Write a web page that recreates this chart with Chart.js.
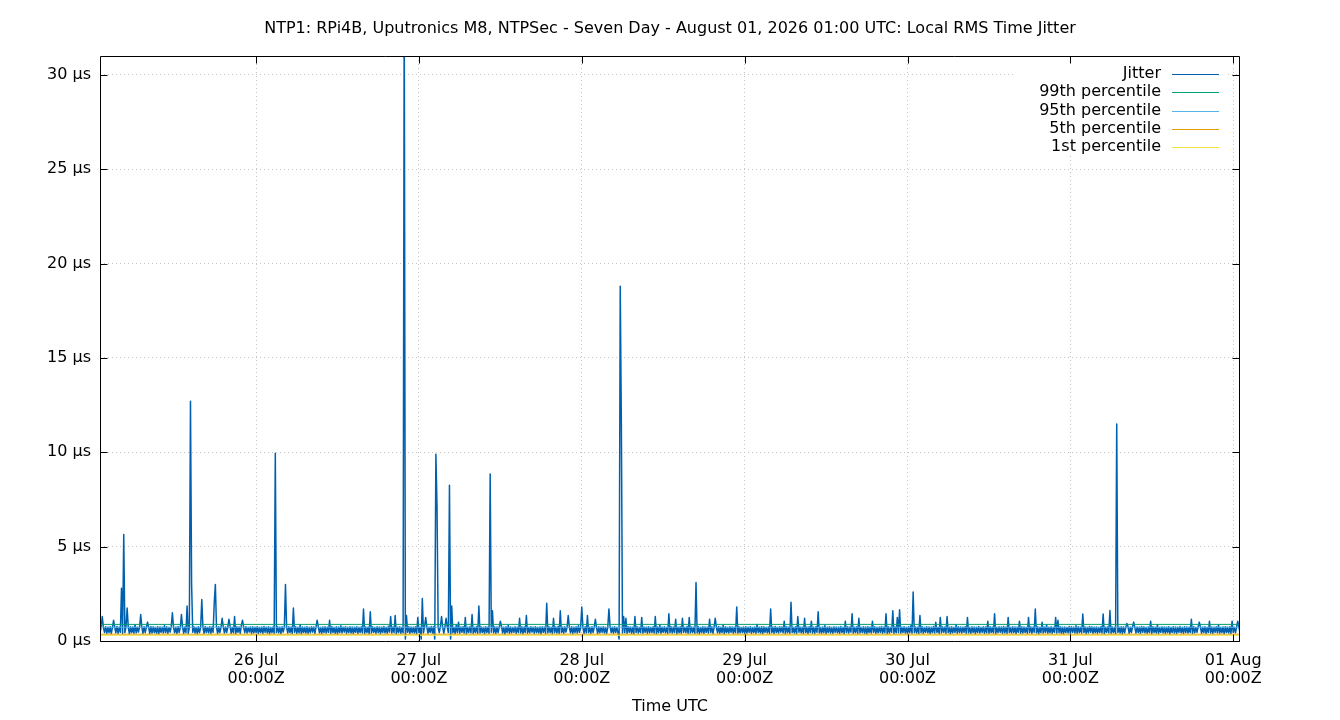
<!DOCTYPE html>
<html>
<head>
<meta charset="utf-8">
<title>Local RMS Time Jitter</title>
<script src="https://cdn.jsdelivr.net/npm/chart.js@4.4.1/dist/chart.umd.min.js"></script>
<style>
  html, body { margin: 0; padding: 0; background: #fff; }
  #wrap { width: 1340px; height: 720px; }
</style>
</head>
<body>
<div id="wrap"><canvas id="jitter" width="1340" height="720"></canvas></div>
<script>
// hours are counted from 26 Jul 00:00Z; samples every 10 minutes from 25 Jul 01:00Z
const startHour = -23;
const endHour = 145;
const stepMinutes = 10;

// Local RMS time jitter, microseconds (two lines = 8 hours)
const jitter = [
  0.42, 0.74, 1.3, 0.72, 0.45, 0.76, 0.40, 0.73, 0.44, 0.75, 0.39, 0.72, 1.1, 0.74, 0.43, 0.77, 0.41, 0.73, 0.46, 2.8, 0.40, 5.65, 0.44, 0.75,
  1.75, 0.72, 0.38, 0.76, 0.45, 0.74, 0.41, 0.86, 0.43, 0.73, 0.47, 0.75, 1.4, 0.72, 0.40, 0.76, 0.44, 0.74, 1.0, 0.73, 0.39, 0.77, 0.42, 0.75,
  0.45, 0.72, 0.41, 0.76, 0.38, 0.74, 0.46, 0.73, 0.42, 0.82, 0.44, 0.75, 0.40, 0.72, 0.47, 0.76, 1.5, 0.74, 0.43, 0.73, 0.39, 0.77, 0.45, 0.72,
  1.4, 0.75, 0.41, 0.74, 0.44, 1.85, 0.40, 0.73, 12.7, 3.0, 0.46, 0.76, 0.42, 0.72, 0.38, 0.75, 0.44, 0.74, 2.2, 0.73, 0.41, 0.77, 0.45, 0.72,
  0.43, 0.76, 0.40, 0.74, 0.46, 2.0, 3.0, 0.73, 0.39, 0.75, 0.44, 0.72, 1.2, 0.76, 0.42, 0.74, 0.45, 0.73, 1.15, 0.77, 0.41, 0.72, 0.43, 1.3,
  0.38, 0.75, 0.46, 0.74, 0.40, 0.83, 1.1, 0.73, 0.44, 0.76, 0.42, 0.72, 0.47, 0.74, 0.39, 0.75, 0.43, 0.73, 0.45, 0.76, 0.41, 0.72, 0.44, 0.74,
  0.40, 0.77, 0.46, 0.73, 0.42, 0.75, 0.38, 0.72, 0.44, 0.74, 0.41, 9.95, 0.45, 0.76, 0.43, 0.73, 0.39, 0.75, 0.47, 0.72, 3.0, 0.74, 0.42, 0.76,
  0.44, 0.73, 0.40, 1.75, 0.46, 0.75, 0.41, 0.72, 0.43, 0.86, 0.38, 0.74, 0.45, 0.73, 0.42, 0.76, 0.40, 0.72, 0.44, 0.75, 0.47, 0.74, 0.41, 0.73,
  1.1, 0.76, 0.43, 0.72, 0.39, 0.74, 0.45, 0.75, 0.42, 0.73, 0.46, 1.1, 0.40, 0.77, 0.44, 0.72, 0.41, 0.75, 0.38, 0.74, 0.45, 0.81, 0.43, 0.73,
  0.47, 0.76, 0.40, 0.72, 0.44, 0.75, 0.42, 0.74, 0.39, 0.73, 0.46, 0.76, 0.41, 0.72, 0.45, 0.75, 0.43, 1.7, 0.40, 0.74, 0.44, 0.73, 0.38, 1.55,
  0.42, 0.75, 0.46, 0.72, 0.41, 0.76, 0.44, 0.74, 0.39, 0.73, 0.45, 0.77, 0.43, 0.72, 0.40, 0.78, 0.47, 1.3, 0.42, 0.74, 0.44, 1.35, 0.38, 0.73,
  0.45, 0.75, 0.41, 0.72, 0.43, 34.0, 0.1, 1.35, 0.46, 0.76, 0.40, 0.74, 0.44, 0.73, 0.42, 0.75, 0.39, 1.25, 0.45, 0.72, 0.1, 2.25, 0.43, 0.76,
  1.25, 0.74, 0.41, 0.73, 0.46, 0.77, 0.42, 0.75, 0.1, 9.9, 7.1, 0.72, 0.44, 0.76, 1.3, 0.74, 0.40, 0.73, 1.2, 0.75, 0.45, 8.25, 0.1, 1.85,
  0.43, 0.72, 0.39, 0.84, 0.44, 1.0, 0.41, 0.74, 0.46, 0.76, 0.42, 1.25, 0.38, 0.73, 0.45, 0.75, 0.43, 1.4, 0.40, 0.72, 0.44, 0.77, 0.41, 1.85,
  0.42, 0.74, 0.45, 0.72, 0.39, 0.76, 0.44, 0.73, 0.41, 8.85, 0.46, 1.6, 0.43, 0.75, 0.40, 0.74, 0.44, 0.72, 1.05, 0.77, 0.42, 0.73, 0.37, 0.75,
  0.45, 0.83, 0.41, 0.74, 0.43, 0.72, 0.46, 0.76, 0.40, 0.73, 0.44, 1.2, 0.42, 0.75, 0.39, 0.74, 0.45, 1.35, 0.41, 0.72, 0.43, 0.76, 0.47, 0.73,
  0.40, 0.75, 0.44, 0.72, 0.42, 0.74, 0.38, 0.76, 0.46, 0.73, 0.41, 2.0, 0.43, 0.75, 0.45, 0.72, 0.39, 1.2, 0.44, 0.74, 0.42, 0.77, 0.40, 1.6,
  0.45, 0.73, 0.41, 0.75, 0.47, 0.72, 1.35, 0.74, 0.43, 0.76, 0.39, 0.73, 0.44, 0.75, 0.42, 0.81, 0.46, 0.74, 1.8, 0.72, 0.40, 0.76, 0.43, 1.35,
  0.44, 0.73, 0.41, 0.75, 0.45, 0.72, 1.15, 0.74, 0.39, 0.76, 0.43, 0.73, 0.46, 0.75, 0.42, 0.72, 0.40, 0.74, 1.7, 0.77, 0.44, 0.73, 0.41, 0.75,
  0.45, 0.72, 0.43, 0.1, 18.8, 11.4, 0.42, 1.3, 0.44, 1.2, 0.40, 0.76, 0.46, 0.74, 0.41, 0.73, 0.38, 1.3, 0.45, 0.75, 0.42, 0.72, 0.44, 1.25,
  0.41, 0.74, 0.46, 0.73, 0.40, 0.76, 0.43, 0.72, 0.45, 0.75, 0.42, 1.3, 0.39, 0.74, 0.44, 0.86, 0.41, 0.73, 0.46, 0.75, 0.43, 0.72, 0.40, 1.45,
  0.44, 0.76, 0.42, 0.74, 0.45, 1.15, 0.38, 0.73, 0.43, 0.75, 0.41, 1.2, 0.46, 0.72, 0.44, 0.77, 0.40, 1.25, 0.42, 0.74, 0.45, 0.73, 0.41, 3.1,
  0.43, 0.75, 0.39, 0.72, 0.44, 0.76, 0.41, 0.74, 0.46, 0.73, 0.42, 1.15, 0.45, 0.75, 0.40, 0.72, 1.2, 0.74, 0.43, 0.77, 0.41, 0.73, 0.44, 0.84,
  0.38, 0.75, 0.45, 0.72, 0.42, 0.76, 0.46, 0.74, 0.40, 0.73, 0.44, 1.8, 0.41, 0.75, 0.43, 0.72, 0.45, 0.74, 0.39, 0.76, 0.42, 0.73, 0.46, 0.75,
  0.41, 0.72, 0.44, 0.74, 0.40, 0.87, 0.45, 0.73, 0.42, 0.76, 0.38, 0.75, 0.46, 0.72, 0.43, 0.74, 0.41, 1.7, 0.44, 0.73, 0.40, 0.77, 0.45, 0.72,
  0.42, 0.75, 0.47, 0.74, 0.43, 1.05, 0.39, 0.76, 0.44, 0.73, 0.41, 2.05, 0.45, 0.72, 0.42, 0.75, 0.40, 1.3, 0.46, 0.74, 0.43, 0.73, 0.41, 1.2,
  0.44, 0.74, 0.39, 0.76, 0.45, 1.05, 0.42, 0.73, 0.40, 0.75, 0.46, 1.55, 0.43, 0.72, 0.41, 0.74, 0.44, 0.82, 0.38, 0.73, 0.45, 0.76, 0.42, 0.72,
  0.40, 0.75, 0.46, 0.74, 0.43, 0.73, 0.41, 0.77, 0.44, 0.72, 0.39, 1.05, 0.45, 0.76, 0.42, 0.74, 0.47, 1.45, 0.41, 0.73, 0.44, 0.75, 0.40, 1.2,
  0.43, 0.72, 0.45, 0.75, 0.41, 0.74, 0.38, 0.76, 0.44, 0.73, 0.42, 1.05, 0.46, 0.75, 0.40, 0.72, 0.43, 0.74, 0.45, 0.77, 0.41, 0.73, 0.44, 1.45,
  0.39, 0.75, 0.42, 0.72, 0.46, 1.6, 0.40, 0.74, 0.43, 1.25, 0.44, 1.65, 0.41, 0.73, 0.45, 0.76, 0.42, 0.72, 0.38, 0.75, 0.44, 0.81, 0.41, 2.6,
  0.45, 0.74, 0.42, 0.73, 0.40, 1.35, 0.44, 0.76, 0.41, 0.72, 0.46, 0.75, 0.43, 0.74, 0.39, 0.73, 0.44, 0.77, 0.42, 1.0, 0.45, 0.72, 0.40, 1.25,
  0.43, 0.75, 0.46, 0.74, 0.41, 1.3, 0.44, 0.73, 0.38, 0.76, 0.43, 0.72, 0.45, 0.86, 0.41, 0.75, 0.44, 0.74, 0.42, 0.73, 0.46, 0.76, 0.40, 1.25,
  0.43, 0.72, 0.41, 0.75, 0.45, 0.74, 0.39, 0.73, 0.44, 0.77, 0.42, 0.72, 0.46, 0.75, 0.40, 0.74, 0.43, 1.05, 0.41, 0.76, 0.45, 0.73, 0.42, 1.45,
  0.38, 0.72, 0.44, 0.75, 0.46, 0.74, 0.41, 0.77, 0.43, 0.73, 0.40, 1.25, 0.45, 0.72, 0.42, 0.76, 0.44, 0.74, 0.39, 0.73, 0.46, 1.05, 0.41, 0.75,
  0.42, 0.74, 0.45, 0.72, 0.40, 1.25, 0.44, 0.76, 0.41, 0.73, 0.46, 1.7, 0.43, 0.75, 0.38, 0.72, 0.44, 1.0, 0.42, 0.74, 0.45, 0.85, 0.41, 0.73,
  0.43, 0.76, 0.40, 0.72, 0.46, 1.25, 0.42, 1.1, 0.44, 0.75, 0.41, 0.73, 0.39, 0.74, 0.45, 0.72, 0.43, 0.77, 0.40, 0.75, 0.46, 0.73, 0.42, 0.81,
  0.41, 0.76, 0.44, 0.73, 0.42, 1.43, 0.45, 0.74, 0.39, 0.72, 0.43, 0.77, 0.46, 0.75, 0.41, 0.73, 0.44, 0.74, 0.40, 0.72, 0.45, 0.76, 0.42, 1.43,
  0.38, 0.73, 0.46, 0.75, 0.43, 1.62, 0.41, 0.74, 0.44, 0.72, 0.40, 11.5, 0.45, 0.73, 0.42, 0.76, 0.39, 0.74, 0.43, 0.72, 0.93, 0.75, 0.41, 0.73,
  0.45, 0.76, 1.0, 0.72, 0.42, 0.74, 0.44, 0.73, 0.40, 0.77, 0.46, 0.75, 0.43, 0.72, 0.41, 0.74, 0.44, 1.05, 0.39, 0.76, 0.45, 0.73, 0.42, 0.86,
  0.40, 0.72, 0.46, 0.75, 0.43, 0.74, 0.41, 0.73, 0.44, 0.76, 0.38, 0.72, 0.45, 0.75, 0.42, 0.74, 0.40, 0.73, 0.46, 0.77, 0.43, 0.72, 0.41, 0.75,
  0.44, 0.74, 0.42, 0.73, 0.45, 1.15, 0.40, 0.76, 0.43, 0.72, 0.46, 0.75, 1.0, 0.74, 0.41, 0.73, 0.44, 0.76, 0.39, 0.72, 0.45, 1.05, 0.42, 0.74,
  0.40, 0.73, 0.46, 0.75, 0.43, 0.85, 0.41, 0.72, 0.44, 0.74, 0.38, 0.76, 0.45, 0.73, 0.42, 0.75, 0.40, 1.05, 0.46, 0.72, 0.43, 0.74, 1.05, 0.73,
  0.43
];

// percentile levels over the seven days, microseconds
const percentileLabels = ['99th percentile', '95th percentile', '5th percentile', '1st percentile'];
const percentileValues = [0.88, 0.73, 0.36, 0.30];
const percentileColors = ['#009e73', '#56b4e9', '#e69f00', '#f0e442'];

const tickHours = [0, 24, 48, 72, 96, 120, 144];
const tickLabels = [
  ['26 Jul', '00:00Z'], ['27 Jul', '00:00Z'], ['28 Jul', '00:00Z'], ['29 Jul', '00:00Z'],
  ['30 Jul', '00:00Z'], ['31 Jul', '00:00Z'], ['01 Aug', '00:00Z']
];
const yTicks = [0, 5, 10, 15, 20, 25, 30];

const FONT = 'DejaVu Sans';
Chart.defaults.font.family = FONT;
Chart.defaults.color = '#000';

const datasets = [{
  label: 'Jitter',
  data: jitter.map((v, i) => ({x: startHour + i * stepMinutes / 60, y: v})),
  borderColor: '#0060ad',
  backgroundColor: '#0060ad',
  borderWidth: 1.5,
  borderJoinStyle: 'round',
  pointRadius: 0,
  tension: 0,
  order: 5
}];
percentileLabels.forEach((label, k) => {
  datasets.push({
    label: label,
    data: [{x: startHour, y: percentileValues[k]}, {x: endHour, y: percentileValues[k]}],
    borderColor: percentileColors[k],
    backgroundColor: percentileColors[k],
    borderWidth: 1,
    pointRadius: 0,
    order: 4 - k
  });
});

// gnuplot style key: text right aligned, sample line on the right
const keyPlugin = {
  id: 'key',
  beforeDatasetsDraw(chart) {
    const {ctx, chartArea: a} = chart;
    ctx.save();
    ctx.fillStyle = '#fff';
    ctx.fillRect(a.right - 227, a.top + 8, 215, 92);
    ctx.restore();
  },
  afterDatasetsDraw(chart) {
    const {ctx, chartArea: a} = chart;
    ctx.save();
    ctx.font = '16px "' + FONT + '"';
    ctx.textAlign = 'right';
    ctx.textBaseline = 'middle';
    chart.data.datasets.forEach((ds, k) => {
      const yy = a.top + 18 + k * 18.3;
      ctx.fillStyle = '#000';
      ctx.fillText(ds.label, a.right - 79, yy);
      ctx.strokeStyle = ds.borderColor;
      ctx.lineWidth = 1;
      ctx.beginPath();
      ctx.moveTo(a.right - 68, Math.round(yy) + 0.5);
      ctx.lineTo(a.right - 21, Math.round(yy) + 0.5);
      ctx.stroke();
    });
    ctx.restore();
  }
};

// border box with inward (mirrored) tick marks
const framePlugin = {
  id: 'frame',
  afterDatasetsDraw(chart) {
    const {ctx, chartArea: a, scales: {x, y}} = chart;
    const L = a.left + 0.5, R = a.right - 0.5, T = a.top + 0.5, B = a.bottom + 0.5;
    ctx.save();
    ctx.strokeStyle = '#000';
    ctx.lineWidth = 1;
    ctx.beginPath();
    ctx.rect(L, T, R - L, B - T);
    y.ticks.forEach(t => {
      const py = Math.round(y.getPixelForValue(t.value)) + 0.5;
      ctx.moveTo(L, py); ctx.lineTo(L + 7, py);
      ctx.moveTo(R, py); ctx.lineTo(R - 7, py);
    });
    x.ticks.forEach(t => {
      const px = Math.round(x.getPixelForValue(t.value)) + 0.5;
      ctx.moveTo(px, B); ctx.lineTo(px, B - 7);
      ctx.moveTo(px, T); ctx.lineTo(px, T + 7);
    });
    ctx.stroke();
    ctx.restore();
  }
};

new Chart(document.getElementById('jitter'), {
  type: 'line',
  data: {datasets: datasets},
  options: {
    responsive: false,
    animation: false,
    devicePixelRatio: 1,
    layout: {padding: 0},
    plugins: {
      legend: {display: false},
      tooltip: {enabled: false},
      title: {
        display: true,
        text: 'NTP1: RPi4B, Uputronics M8, NTPSec - Seven Day - August 01, 2026 01:00 UTC: Local RMS Time Jitter',
        color: '#000',
        font: {family: FONT, size: 16, weight: 'normal', lineHeight: 1.2},
        padding: {top: 19.4, bottom: 17.4}
      }
    },
    scales: {
      x: {
        type: 'linear',
        min: startHour,
        max: endHour,
        afterBuildTicks: s => { s.ticks = tickHours.map(v => ({value: v})); },
        afterFit: s => { s.height = 79; },
        ticks: {
          autoSkip: false,
          maxRotation: 0,
          padding: 11,
          font: {size: 16, lineHeight: 1.1},
          callback: v => tickLabels[tickHours.indexOf(v)]
        },
        grid: {color: '#c4c4c4', lineWidth: 1, drawTicks: false},
        border: {display: false, dash: [1, 3]},
        title: {display: true, text: 'Time UTC', font: {size: 16, lineHeight: 1.2}, padding: {top: 0, bottom: 4}}
      },
      y: {
        type: 'linear',
        min: 0,
        max: 31,
        afterBuildTicks: s => { s.ticks = yTicks.map(v => ({value: v})); },
        afterFit: s => { s.width = 100; },
        ticks: {
          padding: 9,
          font: {size: 16},
          callback: v => v + ' µs'
        },
        grid: {color: '#c4c4c4', lineWidth: 1, drawTicks: false},
        border: {display: false, dash: [1, 3]}
      },
      // empty right margin, same width as the left axis
      yRight: {
        type: 'linear',
        position: 'right',
        min: 0,
        max: 31,
        afterFit: s => { s.width = 100; },
        ticks: {display: false},
        grid: {display: false},
        border: {display: false}
      }
    }
  },
  plugins: [keyPlugin, framePlugin]
});
</script>
</body>
</html>
